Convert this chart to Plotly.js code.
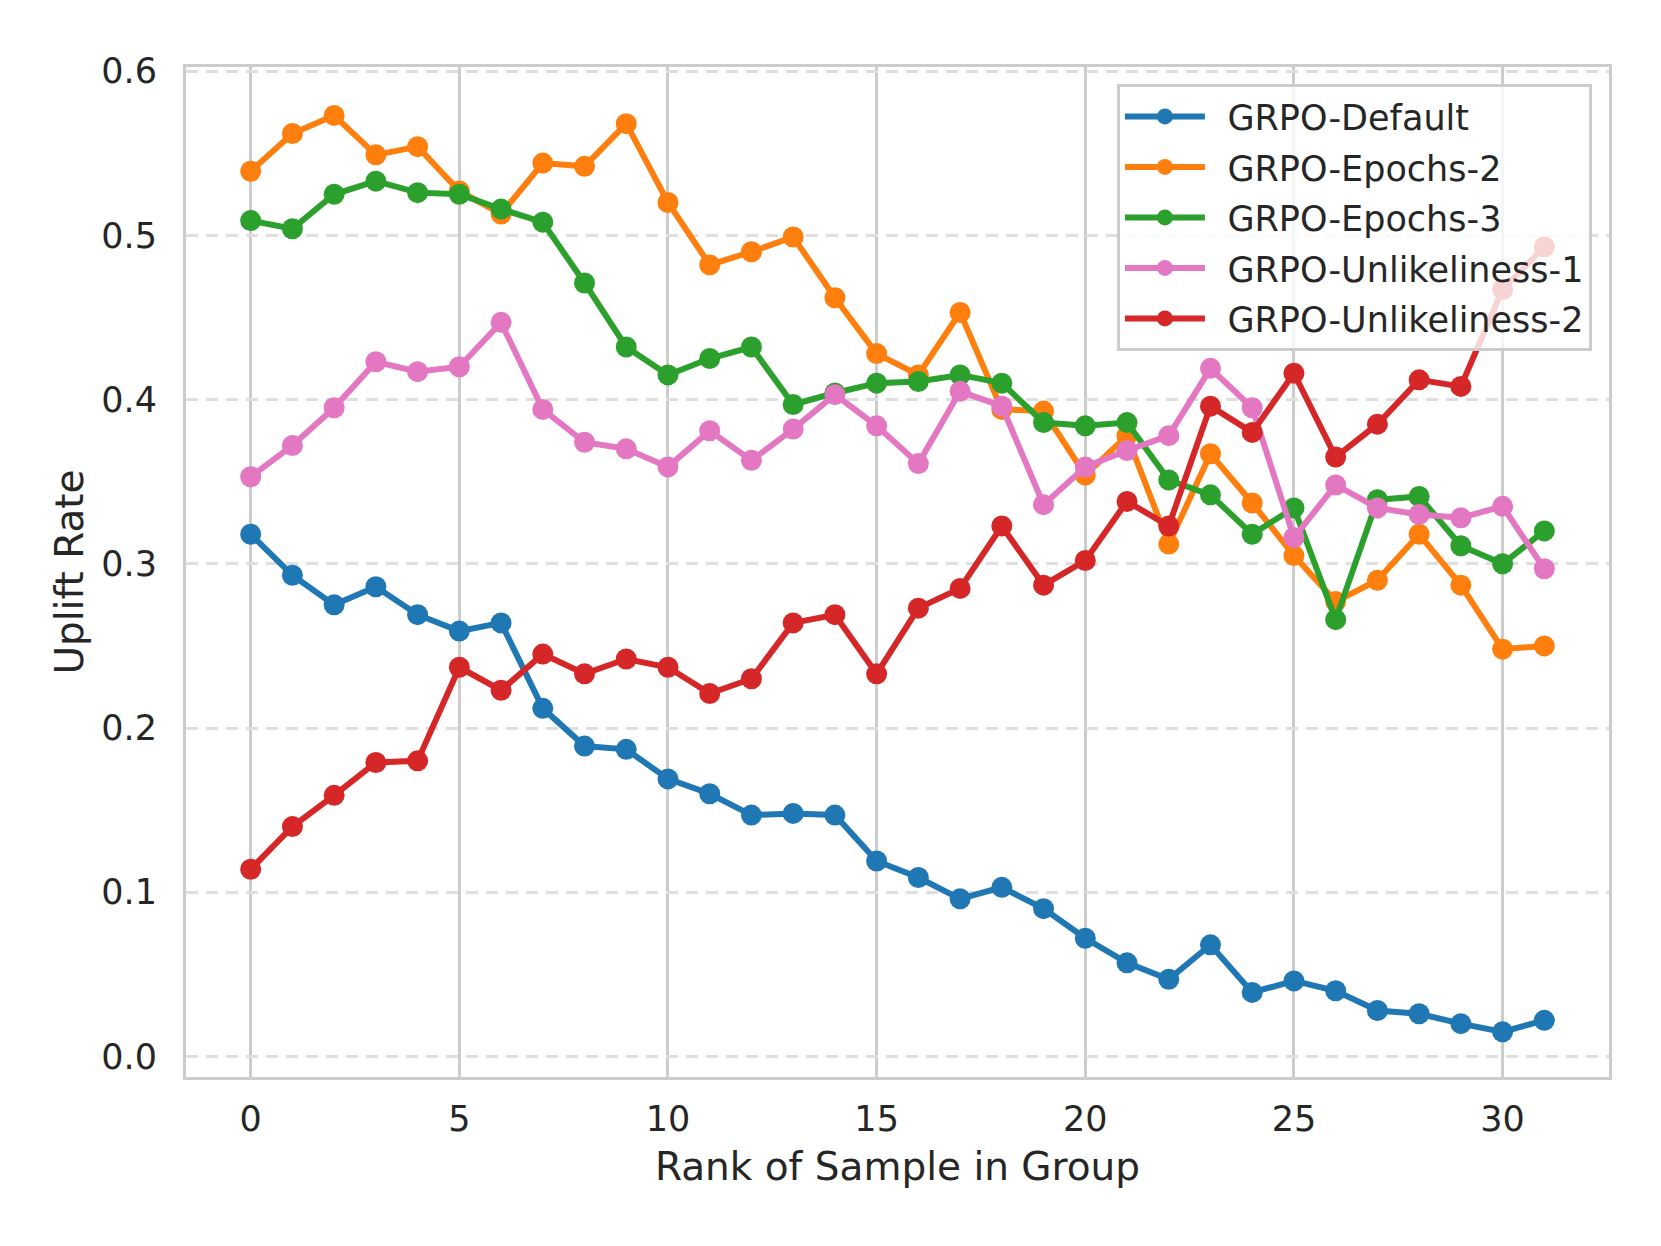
<!DOCTYPE html>
<html>
<head>
<meta charset="utf-8">
<script src="https://cdn.plot.ly/plotly-3.0.1.min.js"></script>
<style>
  html, body { margin: 0; padding: 0; background: #ffffff; }
  #chart { width: 1661px; height: 1246px; }
</style>
</head>
<body>
<div id="chart"></div>
<script>
const ranks = Array.from({length: 32}, (_, i) => i);
const seriesNames = ["GRPO-Default", "GRPO-Epochs-2", "GRPO-Epochs-3", "GRPO-Unlikeliness-1", "GRPO-Unlikeliness-2"];
const grpoDefault = [0.318, 0.293, 0.275, 0.286, 0.269, 0.259, 0.264, 0.212, 0.189, 0.187, 0.169, 0.160, 0.147, 0.148, 0.147, 0.119, 0.109, 0.096, 0.103, 0.090, 0.072, 0.057, 0.047, 0.068, 0.039, 0.046, 0.040, 0.028, 0.026, 0.020, 0.015, 0.022];
const grpoEpochs2 = [0.539, 0.562, 0.573, 0.549, 0.554, 0.527, 0.513, 0.544, 0.542, 0.568, 0.520, 0.482, 0.490, 0.499, 0.462, 0.428, 0.415, 0.453, 0.394, 0.393, 0.354, 0.378, 0.312, 0.367, 0.337, 0.305, 0.277, 0.290, 0.318, 0.287, 0.248, 0.250];
const grpoEpochs3 = [0.509, 0.504, 0.525, 0.533, 0.526, 0.525, 0.516, 0.508, 0.471, 0.432, 0.415, 0.425, 0.432, 0.397, 0.404, 0.410, 0.411, 0.415, 0.410, 0.386, 0.384, 0.386, 0.351, 0.342, 0.318, 0.334, 0.266, 0.339, 0.341, 0.311, 0.300, 0.320];
const grpoUnlikely1 = [0.353, 0.372, 0.395, 0.423, 0.417, 0.420, 0.447, 0.394, 0.374, 0.370, 0.359, 0.381, 0.363, 0.382, 0.403, 0.384, 0.361, 0.405, 0.396, 0.336, 0.359, 0.369, 0.378, 0.419, 0.395, 0.316, 0.348, 0.334, 0.330, 0.328, 0.335, 0.297];
const grpoUnlikely2 = [0.114, 0.140, 0.159, 0.179, 0.180, 0.237, 0.223, 0.245, 0.233, 0.242, 0.237, 0.221, 0.230, 0.264, 0.269, 0.233, 0.273, 0.285, 0.323, 0.287, 0.302, 0.338, 0.323, 0.396, 0.380, 0.416, 0.365, 0.385, 0.412, 0.408, 0.467, 0.493];
const xTickVals = [0, 5, 10, 15, 20, 25, 30];
const yTickVals = [0.0, 0.1, 0.2, 0.3, 0.4, 0.5, 0.6];

const allSeries = [grpoDefault, grpoEpochs2, grpoEpochs3, grpoUnlikely1, grpoUnlikely2];
const colors = ["#1f77b4", "#ff7f0e", "#2ca02c", "#e377c2", "#d62728"];

const traces = allSeries.map((ys, i) => ({
  type: "scatter",
  mode: "lines+markers",
  x: ranks,
  y: ys,
  name: "\u2002" + seriesNames[i],
  legendgroup: "g" + i,
  line: {color: colors[i], width: 6},
  marker: {color: colors[i], size: 21},
  hoverinfo: "skip"
}));

const font = "DejaVu Sans, Verdana, sans-serif";
const layout = {
  width: 1661,
  height: 1246,
  paper_bgcolor: "#ffffff",
  plot_bgcolor: "#ffffff",
  margin: {l: 186, r: 52, t: 67, b: 169, pad: 0},
  font: {family: font, color: "#262626", size: 35},
  showlegend: true,
  legend: {
    x: 0.988, y: 0.983, xanchor: "right", yanchor: "top",
    bgcolor: "rgba(255,255,255,0.8)",
    bordercolor: "#cccccc", borderwidth: 3,
    font: {family: font, size: 35, color: "#262626"},
    tracegroupgap: 2,
    itemwidth: 80
  },
  xaxis: {
    range: [-1.55, 32.55],
    tickmode: "array",
    tickvals: xTickVals,
    ticktext: xTickVals.map(String),
    showgrid: true,
    gridcolor: "#cccccc",
    gridwidth: 3,
    zeroline: false,
    showline: true,
    mirror: true,
    linecolor: "#cccccc",
    linewidth: 3,
    ticks: "",
    ticklabelstandoff: 9,
    tickfont: {family: font, size: 35, color: "#262626"},
    title: {text: "Rank of Sample in Group", font: {family: font, size: 39, color: "#262626"}, standoff: 15}
  },
  yaxis: {
    range: [-0.0125, 0.6025],
    tickmode: "array",
    tickvals: yTickVals,
    ticktext: yTickVals.map(v => v.toFixed(1)),
    showgrid: true,
    gridcolor: "#dedede",
    gridwidth: 3,
    griddash: "12px,8px",
    zeroline: false,
    showline: true,
    mirror: true,
    linecolor: "#cccccc",
    linewidth: 3,
    ticks: "",
    ticklabelstandoff: 19,
    tickfont: {family: font, size: 35, color: "#262626"},
    title: {text: "Uplift Rate", font: {family: font, size: 39, color: "#262626"}, standoff: 6}
  }
};

Plotly.newPlot("chart", traces, layout, {displayModeBar: false, staticPlot: true});
</script>
</body>
</html>
